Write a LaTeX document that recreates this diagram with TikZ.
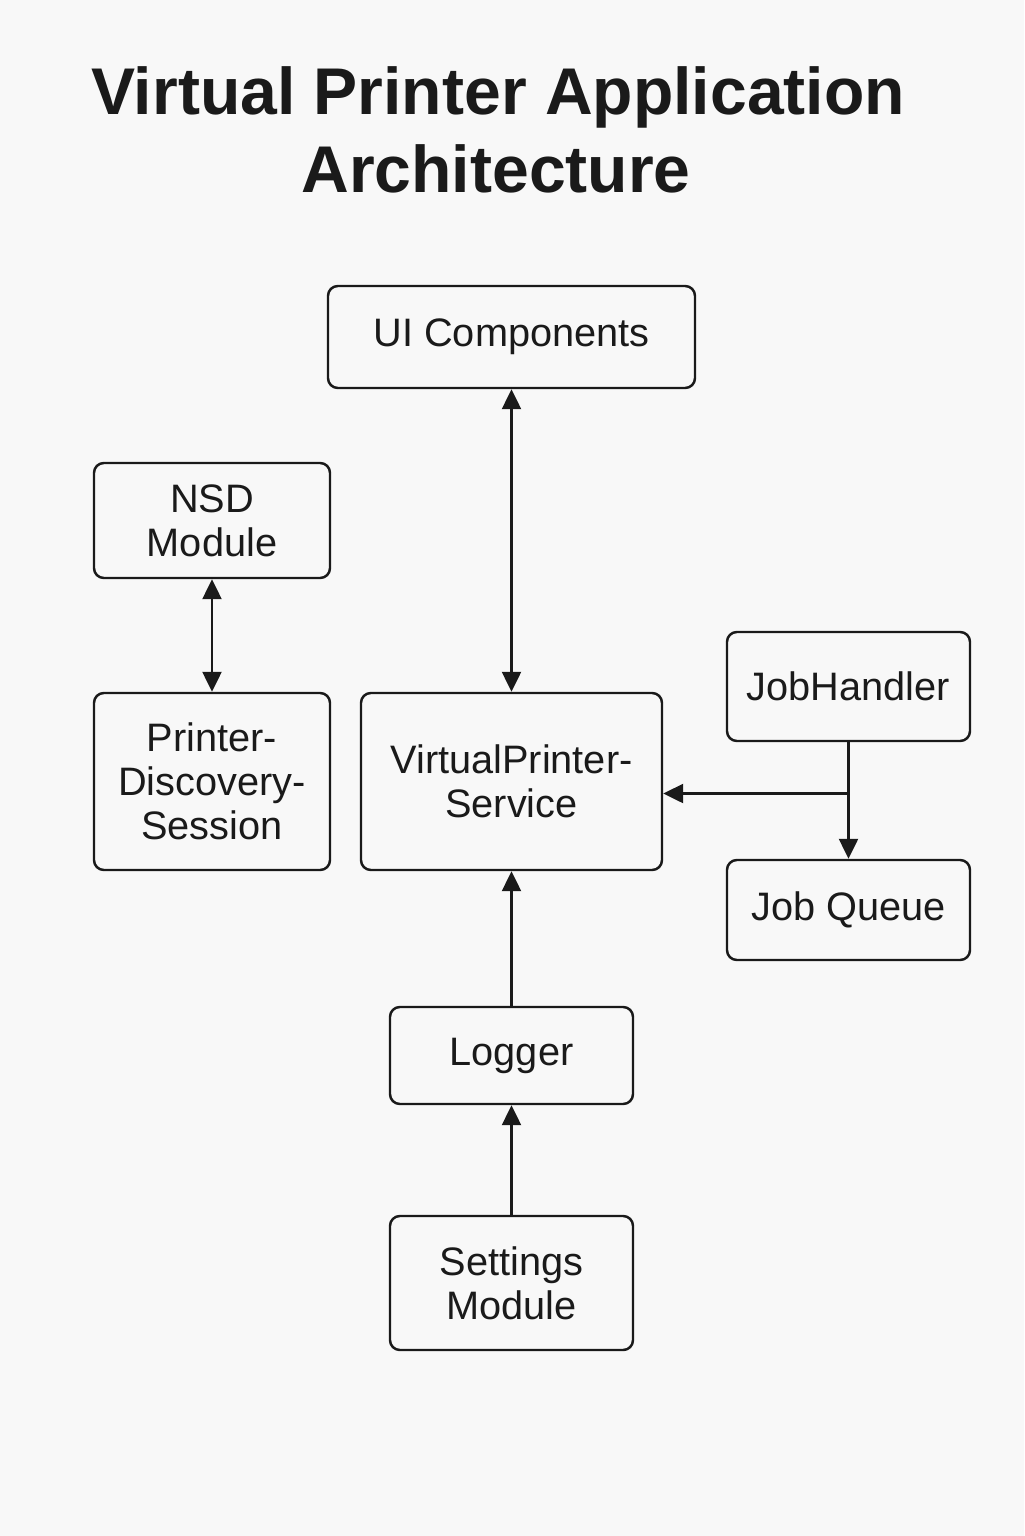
\documentclass[tikz,border=0pt]{standalone}
\usepackage{fontspec}
\setmainfont{Liberation Sans}
\usepackage{tikz}
\usetikzlibrary{positioning,arrows.meta,calc}

\definecolor{bgcol}{RGB}{248,248,248}
\definecolor{inkcol}{RGB}{26,26,26}

\begin{document}
\begin{tikzpicture}[
  module/.style={
    rectangle, rounded corners=2.8pt, draw=inkcol, line width=0.7pt,
    fill=bgcol, text=inkcol, inner sep=0pt, align=center,
    font=\fontsize{11.3}{12.6}\selectfont
  },
  arrow/.style={-{Triangle[length=0.2cm, width=0.19cm]}, line width=0.7pt, inkcol},
  twoway/.style={{Triangle[length=0.2cm, width=0.19cm]}-{Triangle[length=0.2cm, width=0.19cm]}, line width=0.7pt, inkcol},
  heading/.style={font=\fontsize{18.8}{22}\selectfont\bfseries, text=inkcol, anchor=base, inner sep=0pt}
]

% === Canvas ===
\fill[bgcol] (0,0) rectangle (10.24,-15.36);
\useasboundingbox (0,0) rectangle (10.24,-15.36);

% === Title ===
\node[heading] (title1) at (4.98,-1.15) {Virtual Printer Application};
\node[heading] (title2) at (4.96,-1.93) {Architecture};

% === Modules ===
\node[module, minimum width=3.67cm, minimum height=1.02cm] (ui) at (5.115,-3.37) {UI Components};
\node[module, minimum width=2.36cm, minimum height=1.15cm] (nsd) at (2.12,-5.205) {NSD\\Module};
\node[module, minimum width=2.36cm, minimum height=1.77cm] (pds) at (2.12,-7.815) {Printer-\\Discovery-\\Session};
\node[module, minimum width=3.01cm, minimum height=1.77cm] (vps) at (5.115,-7.815) {VirtualPrinter-\\Service};
\node[module, minimum width=2.43cm, minimum height=1.09cm] (jh) at (8.485,-6.865) {JobHandler};
\node[module, minimum width=2.43cm, minimum height=1.00cm] (jq) at (8.485,-9.10) {Job Queue};
\node[module, minimum width=2.43cm, minimum height=0.97cm] (log) at (5.115,-10.555) {Logger};
\node[module, minimum width=2.43cm, minimum height=1.34cm] (set) at (5.115,-12.83) {Settings\\Module};

% === Connectors ===
\draw[twoway] (ui) -- (vps);
\draw[twoway] (nsd) -- (pds);
\draw[arrow] (jh) -- (jq);
\coordinate (split) at ($(jh.south)!0.44!(jq.north)$);
\draw[arrow] (split) -- (vps.east |- split);
\draw[arrow] (log) -- (vps);
\draw[arrow] (set) -- (log);

\end{tikzpicture}
\end{document}
